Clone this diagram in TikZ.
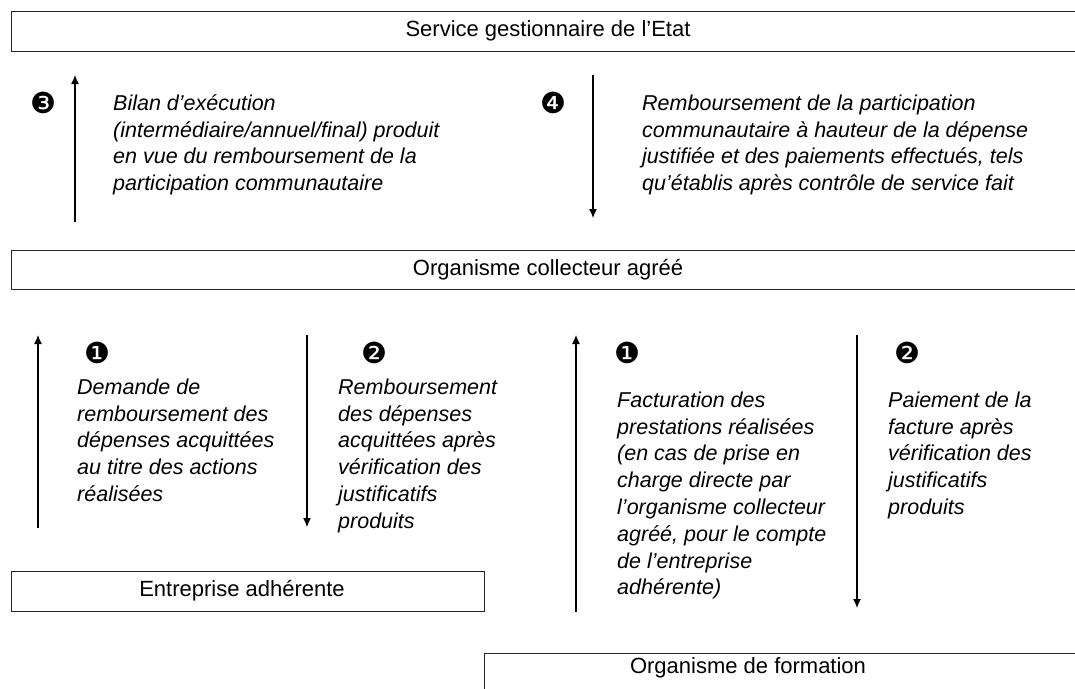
\documentclass[tikz,border=0pt]{standalone}
\usepackage{fontspec}
\setmainfont{Liberation Sans}
\newfontfamily\dingfont{DejaVu Sans}
\usetikzlibrary{arrows.meta}
\tikzset{
  boxst/.style={draw=black!85, line width=1.4pt, inner sep=0pt, anchor=north west},
  boxtxt/.style={inner sep=0pt, font=\fontsize{22}{26}\selectfont},
  flowtxt/.style={inner sep=0pt, anchor=north west, align=left, font=\itshape\fontsize{21.5}{26.8}\selectfont},
  numst/.style={inner sep=0pt, font=\dingfont\fontsize{29}{32}\selectfont},
  arr/.style={line width=1.2pt, -{Latex[length=9pt,width=8pt]}}
}
\newcommand{\fs}{\rule{0pt}{21pt}}
\begin{document}
\begin{tikzpicture}[x=1pt,y=-1pt]
\clip (0,0) rectangle (1075,688);
\fill[white] (0,0) rectangle (1075,688);
% boxes
\node[boxst, minimum width=1074pt, minimum height=40pt] (etat) at (11,11) {};
\node[boxtxt] (etatt) at (548,31) {Service gestionnaire de l’Etat};
\node[boxst, minimum width=1074pt, minimum height=39pt] (oca) at (11,250) {};
\node[boxtxt] (ocat) at (548,269.5) {Organisme collecteur agréé};
\node[boxst, minimum width=473pt, minimum height=40pt] (ent) at (11,571) {};
\node[boxtxt] (entt) at (242,591) {Entreprise adhérente};
\node[boxst, minimum width=616pt, minimum height=40pt] (form) at (484,653) {};
\node[boxtxt] (formt) at (748,668) {Organisme de formation};
% arrow coordinates
\coordinate (a3s) at (75,222); \coordinate (a3e) at (75,75);
\coordinate (a4s) at (593,75); \coordinate (a4e) at (593,218);
\coordinate (l1s) at (38,528); \coordinate (l1e) at (38,335);
\coordinate (l2s) at (307,335); \coordinate (l2e) at (307,527);
\coordinate (r1s) at (576,612); \coordinate (r1e) at (576,335);
\coordinate (r2s) at (857,335); \coordinate (r2e) at (857,608);
\draw[arr] (a3s) -- (a3e);
\draw[arr] (a4s) -- (a4e);
\draw[arr] (l1s) -- (l1e);
\draw[arr] (l2s) -- (l2e);
\draw[arr] (r1s) -- (r1e);
\draw[arr] (r2s) -- (r2e);
% numbers
\node[numst] (n3) at (43,103) {❸};
\node[numst] (n4) at (553,103) {❹};
\node[numst] (nl1) at (97,353) {❶};
\node[numst] (nl2) at (374,353) {❷};
\node[numst] (nr1) at (627,353) {❶};
\node[numst] (nr2) at (907,353) {❷};
% texts
\node[flowtxt] (t3) at (113,89) {\fs Bilan d’exécution\\(intermédiaire/annuel/final) produit\\en vue du remboursement de la\\participation communautaire};
\node[flowtxt] (t4) at (642,89) {\fs Remboursement de la participation\\communautaire à hauteur de la dépense\\justifiée et des paiements effectués, tels\\qu’établis après contrôle de service fait};
\node[flowtxt] (tl1) at (77,373) {\fs Demande de\\remboursement des\\dépenses acquittées\\au titre des actions\\réalisées};
\node[flowtxt] (tl2) at (338,373) {\fs Remboursement\\des dépenses\\acquittées après\\vérification des\\justificatifs\\produits};
\node[flowtxt] (tr1) at (617,386) {\fs Facturation des\\prestations réalisées\\(en cas de prise en\\charge directe par\\l’organisme collecteur\\agréé, pour le compte\\de l’entreprise\\adhérente)};
\node[flowtxt] (tr2) at (888,386) {\fs Paiement de la\\facture après\\vérification des\\justificatifs\\produits};
\end{tikzpicture}
\end{document}
